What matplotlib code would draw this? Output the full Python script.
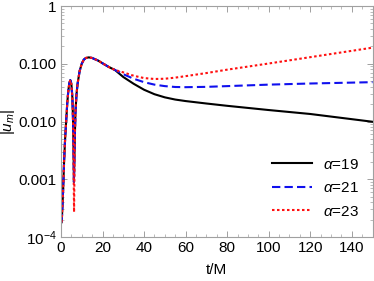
import numpy as np
import matplotlib
matplotlib.use("Agg")
import matplotlib.pyplot as plt
from matplotlib.ticker import FixedLocator, NullFormatter, MultipleLocator

plt.rcParams['font.family'] = ['Liberation Sans', 'DejaVu Sans']
plt.rcParams['mathtext.fontset'] = 'custom'
plt.rcParams['mathtext.it'] = 'Liberation Sans:italic'
plt.rcParams['mathtext.rm'] = 'Liberation Sans'

# common early part (oscillation + main peak)
t_early = [0.3, 0.5, 1.0, 1.5, 2.0, 2.5, 3.0, 3.5, 4.0, 4.5, 5.0, 5.5, 5.9]
u_early = [1.8e-4, 2.3e-4, 6e-4, 2e-3, 5e-3, 1.0e-2, 2.0e-2, 3.3e-2, 4.6e-2, 5.2e-2, 4.5e-2, 2.6e-2, 8e-3]

t_dip_dark = [6.25]
u_dip_dark = [9e-4]
t_dip_red = [6.3]
u_dip_red = [2.7e-4]

t_mid = [6.7, 7.0, 7.5, 8.0, 9.0, 10.0, 11.0, 12.0, 13.4, 15.0, 18.0, 20.0, 23.0, 26.0]
u_mid = [6e-3, 1.5e-2, 3e-2, 4.5e-2, 7.5e-2, 0.1, 0.118, 0.126, 0.129, 0.126, 0.113, 0.102, 0.088, 0.078]

# late-time tails per alpha
t_late19 = [30, 35, 40, 45, 50, 55, 60, 70, 80, 100, 120, 150]
u_late19 = [0.059, 0.045, 0.0355, 0.0297, 0.0262, 0.024, 0.0226, 0.0205, 0.0187, 0.0158, 0.0135, 0.0099]
t_late21 = [30, 35, 40, 45, 50, 55, 60, 70, 80, 100, 120, 150]
u_late21 = [0.066, 0.055, 0.048, 0.0435, 0.041, 0.0396, 0.0393, 0.0398, 0.041, 0.0435, 0.0455, 0.048]
t_late23 = [30, 35, 40, 45, 50, 55, 60, 70, 80, 100, 120, 150]
u_late23 = [0.071, 0.062, 0.0565, 0.0545, 0.055, 0.0575, 0.061, 0.069, 0.079, 0.101, 0.13, 0.19]

labels = [r"$\alpha$=19", r"$\alpha$=21", r"$\alpha$=23"]

fig = plt.figure(figsize=(3.74, 2.81), dpi=100)
ax = fig.add_axes([0.163, 0.1566, 0.833, 0.822])

t19 = t_early + t_dip_dark + t_mid + t_late19
u19 = u_early + u_dip_dark + u_mid + u_late19
t21 = t_early + t_dip_dark + t_mid + t_late21
u21 = u_early + u_dip_dark + u_mid + u_late21
t23 = t_early + t_dip_red + t_mid + t_late23
u23 = u_early + u_dip_red + u_mid + u_late23

ax.plot(t19, u19, color='black', lw=1.5, label=labels[0])
ax.plot(t21, u21, color='#1010ee', lw=1.5, ls=(0, (4, 2)), label=labels[1])
ax.plot(t23, u23, color='#ff1010', lw=1.5, ls=(0, (1.2, 1.2)), label=labels[2])

ax.set_yscale('log')
ax.set_xlim(0, 150)
ax.set_ylim(1e-4, 1)
ax.set_yticks([1e-4, 1e-3, 1e-2, 1e-1, 1])
ax.set_yticklabels([r"10$^{-4}$", "0.001", "0.010", "0.100", "1"])
ax.yaxis.set_minor_locator(FixedLocator([m * 10.0 ** e for e in range(-4, 0) for m in range(2, 10)]))
ax.yaxis.set_minor_formatter(NullFormatter())
ax.xaxis.set_major_locator(MultipleLocator(20))
ax.xaxis.set_minor_locator(MultipleLocator(5))

for s in ax.spines.values():
    s.set_color('#a0a0a0')
    s.set_linewidth(0.8)
ax.tick_params(which='both', direction='in', top=True, right=True, color='#a0a0a0',
               labelsize=11, labelcolor='black', pad=3)
ax.tick_params(which='major', length=4, width=0.7)
ax.tick_params(which='minor', length=2, width=0.5)

ax.set_xlabel("t/M", fontsize=11, labelpad=6)
ax.set_ylabel(r"$|u_m|$", fontsize=11, labelpad=1)

ax.legend(loc='lower right', frameon=False, fontsize=11, handlelength=2.6,
          handletextpad=0.7, labelspacing=0.62, bbox_to_anchor=(1.0, 0.02))

fig.savefig("out.png", dpi=100)
